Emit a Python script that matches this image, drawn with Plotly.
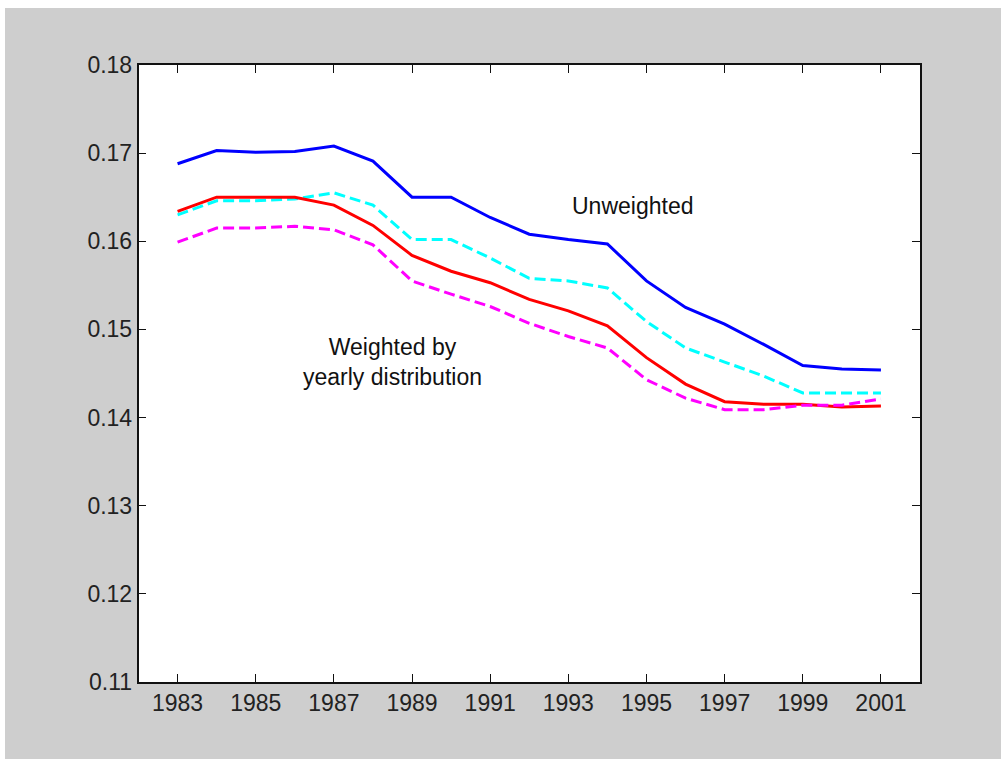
import plotly.graph_objects as go

years = list(range(1983, 2002))
unweighted = [0.1688, 0.1703, 0.1701, 0.1702, 0.1708, 0.1691, 0.1650, 0.1650, 0.1627, 0.1608,
              0.1602, 0.1597, 0.1555, 0.1525, 0.1506, 0.1483, 0.1459, 0.1455, 0.1454]
unweighted_alt = [0.1630, 0.1646, 0.1646, 0.1648, 0.1655, 0.1641, 0.1602, 0.1602, 0.1581, 0.1558,
                  0.1555, 0.1547, 0.1509, 0.1479, 0.1463, 0.1447, 0.1428, 0.1428, 0.1428]
weighted = [0.1634, 0.1650, 0.1650, 0.1650, 0.1641, 0.1618, 0.1584, 0.1566, 0.1553, 0.1534,
            0.1521, 0.1504, 0.1468, 0.1438, 0.1418, 0.1415, 0.1415, 0.1412, 0.1413]
weighted_alt = [0.1599, 0.1615, 0.1615, 0.1617, 0.1613, 0.1596, 0.1555, 0.1540, 0.1526, 0.1507,
                0.1492, 0.1479, 0.1443, 0.1422, 0.1409, 0.1409, 0.1414, 0.1414, 0.1421]
x_ticks = list(range(1983, 2002, 2))
y_ticks = [0.11, 0.12, 0.13, 0.14, 0.15, 0.16, 0.17, 0.18]

W, H = 1001, 759
FONT = "Liberation Sans, Arial, sans-serif"

fig = go.Figure()
fig.add_trace(go.Scatter(x=years, y=unweighted, mode="lines",
                         line=dict(color="#0000ff", width=3)))
fig.add_trace(go.Scatter(x=years, y=unweighted_alt, mode="lines",
                         line=dict(color="#00ffff", width=3, dash="11px,5px")))
fig.add_trace(go.Scatter(x=years, y=weighted, mode="lines",
                         line=dict(color="#ff0000", width=3)))
fig.add_trace(go.Scatter(x=years, y=weighted_alt, mode="lines",
                         line=dict(color="#ff00ff", width=3, dash="11px,5px")))

axis_common = dict(showgrid=False, zeroline=False, showline=True, linecolor="#111111",
                   linewidth=1.5, mirror="ticks", ticks="inside", ticklen=8,
                   tickcolor="#111111", tickwidth=1, automargin=False,
                   tickfont=dict(family=FONT, size=23, color="#222222"))

fig.update_layout(
    width=W, height=H,
    margin=dict(l=0, r=0, t=0, b=0, pad=0),
    paper_bgcolor="#cecece",
    plot_bgcolor="#ffffff",
    showlegend=False,
    xaxis=dict(range=[1982, 2002], tickvals=x_ticks, domain=[138.5 / W, 920 / W], **axis_common),
    yaxis=dict(range=[0.11, 0.18], tickvals=y_ticks, tickformat=".2f",
               domain=[(H - 682) / H, (H - 65) / H], **axis_common),
    annotations=[
        dict(x=1994.64, y=0.1640, xref="x", yref="y", text="Unweighted", showarrow=False,
             font=dict(family=FONT, size=23, color="#111111"), xanchor="center", yanchor="middle"),
        dict(x=1988.49, y=0.1463, xref="x", yref="y", text="Weighted by<br>yearly distribution",
             showarrow=False, align="center",
             font=dict(family=FONT, size=23, color="#111111"), xanchor="center", yanchor="middle"),
    ],
    shapes=[
        dict(type="rect", xref="paper", yref="paper", x0=0, x1=1, y0=(H - 8) / H, y1=1,
             fillcolor="#ffffff", line=dict(width=0)),
        dict(type="rect", xref="paper", yref="paper", x0=0, x1=5 / W, y0=0, y1=1,
             fillcolor="#ffffff", line=dict(width=0)),
    ],
)

fig.write_html("out.html", config={"displayModeBar": False},
               post_script="document.body.style.margin='0';document.body.style.overflow='hidden';")
